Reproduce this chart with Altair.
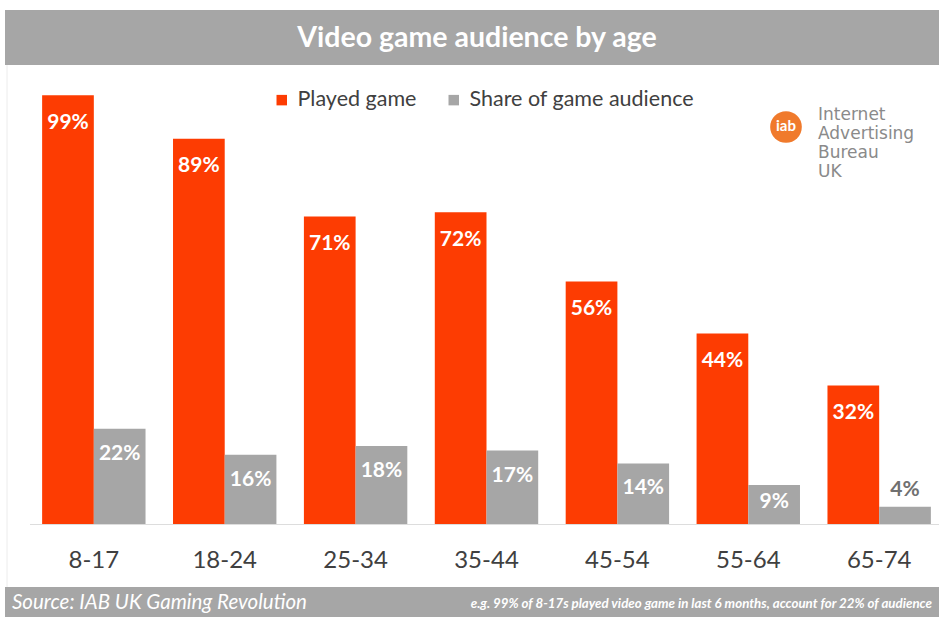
import altair as alt
import pandas as pd

# ---- data ----
ages = ["8-17", "18-24", "25-34", "35-44", "45-54", "55-64", "65-74"]
played = [99, 89, 71, 72, 56, 44, 32]
share = [22, 16, 18, 17, 14, 9, 4]
series_names = ["Played game", "Share of game audience"]
colors = ["#fd3c02", "#a6a6a6"]

title_text = "Video game audience by age"
source_text = "Source: IAB UK Gaming Revolution"
note_text = "e.g. 99% of 8-17s played video game in last 6 months, account for 22% of audience"
logo_lines = ["Internet", "Advertising", "Bureau", "UK"]

rows = []
for a, p, s in zip(ages, played, share):
    rows.append({"age": a, "series": series_names[0], "value": p})
    rows.append({"age": a, "series": series_names[1], "value": s})
df = pd.DataFrame(rows)

FONT = "Lato"

x_enc = alt.X("age:N", sort=ages,
              scale=alt.Scale(range=[31, 942], paddingInner=0.21, paddingOuter=0.085),
              axis=None)
y_scale = alt.Scale(domain=[0, 100], range=[524, 91], nice=False, zero=True)
xoff = alt.XOffset("series:N", sort=series_names,
                   scale=alt.Scale(paddingInner=0, paddingOuter=0))

one = pd.DataFrame({"k": [0]})

# title bar
title_bar = alt.Chart(one).mark_rect(color="#a6a6a6").encode(
    x=alt.value(5), x2=alt.value(939), y=alt.value(10), y2=alt.value(65))
title = alt.Chart(pd.DataFrame({"t": [title_text]})).mark_text(
    font=FONT, fontWeight="bold", fontSize=28.5, color="white", baseline="middle", align="center"
).encode(x=alt.value(477), y=alt.value(38), text="t:N")

# frame line on left
frame = alt.Chart(one).mark_rule(color="#ececec", strokeWidth=1).encode(
    x=alt.value(7), y=alt.value(65), y2=alt.value(587))

# baseline
baseline = alt.Chart(one).mark_rule(color="#dddddd", strokeWidth=1).encode(
    x=alt.value(30), x2=alt.value(939), y=alt.value(524.5))

bars = alt.Chart(df).mark_bar().encode(
    x=x_enc,
    xOffset=xoff,
    y=alt.Y("value:Q", scale=y_scale, axis=None),
    color=alt.Color("series:N", sort=series_names,
                    scale=alt.Scale(domain=series_names, range=colors),
                    legend=alt.Legend(title=None, orient="none", legendX=271, legendY=89,
                                      direction="horizontal", symbolType="square",
                                      symbolSize=110, symbolStrokeWidth=0,
                                      labelFontSize=21.5, labelFont=FONT, labelColor="#404040",
                                      labelLimit=0, columnPadding=26, labelOffset=5)),
)

labels = alt.Chart(df).transform_calculate(
    ly="datum.series == 'Played game' ? datum.value - 6.4 : "
       "(datum.value >= 12 ? datum.value - 5.8 : (datum.value < 6 ? datum.value + 3.9 : datum.value * 0.56))",
    lbl="datum.value + '%'",
).mark_text(font=FONT, fontWeight="bold", fontSize=21, baseline="middle", align="center").encode(
    x=x_enc,
    xOffset=xoff,
    y=alt.Y("ly:Q", scale=y_scale, axis=None),
    text="lbl:N",
    color=alt.condition("datum.value < 6", alt.value("#707070"), alt.value("white")),
)

cat_labels = alt.Chart(pd.DataFrame({"age": ages})).mark_text(
    font=FONT, fontSize=24, color="#404040", baseline="middle", align="center"
).encode(x=x_enc, y=alt.value(561), text="age:N")

# logo
logo_circle = alt.Chart(one).mark_point(filled=True, shape="circle", size=1000,
                                        color="#f07a2c", opacity=1).encode(
    x=alt.value(786), y=alt.value(127))
logo_iab = alt.Chart(pd.DataFrame({"t": ["iab"]})).mark_text(
    font=FONT, fontWeight="bold", fontSize=15, color="white", baseline="middle", align="center"
).encode(x=alt.value(786), y=alt.value(126), text="t:N")
logo_text = alt.layer(*[
    alt.Chart(pd.DataFrame({"t": [t]})).mark_text(
        font="DejaVu Sans", fontSize=17, color="#8a8a8a", baseline="middle", align="left"
    ).encode(x=alt.value(818), y=alt.value(115 + 19 * i), text="t:N")
    for i, t in enumerate(logo_lines)
])

# footer
foot_bar = alt.Chart(one).mark_rect(color="#a6a6a6").encode(
    x=alt.value(5), x2=alt.value(939), y=alt.value(587), y2=alt.value(617))
foot_src = alt.Chart(pd.DataFrame({"t": [source_text]})).mark_text(
    font=FONT, fontStyle="italic", fontSize=20.5, color="white", baseline="middle", align="left"
).encode(x=alt.value(12), y=alt.value(603), text="t:N")
foot_note = alt.Chart(pd.DataFrame({"t": [note_text]})).mark_text(
    font=FONT, fontStyle="italic", fontWeight="bold", fontSize=13.3, color="white",
    baseline="middle", align="right"
).encode(x=alt.value(932), y=alt.value(604), text="t:N")

chart = alt.layer(
    title_bar, title, frame, baseline, bars, labels, cat_labels,
    logo_circle, logo_iab, logo_text, foot_bar, foot_src, foot_note
).properties(
    width=939, height=617,
    autosize=alt.AutoSizeParams(type="none"),
    padding=0,
    background="white",
).configure_view(stroke=None)

chart.save("out.html", embed_options={"renderer": "svg", "actions": False})
